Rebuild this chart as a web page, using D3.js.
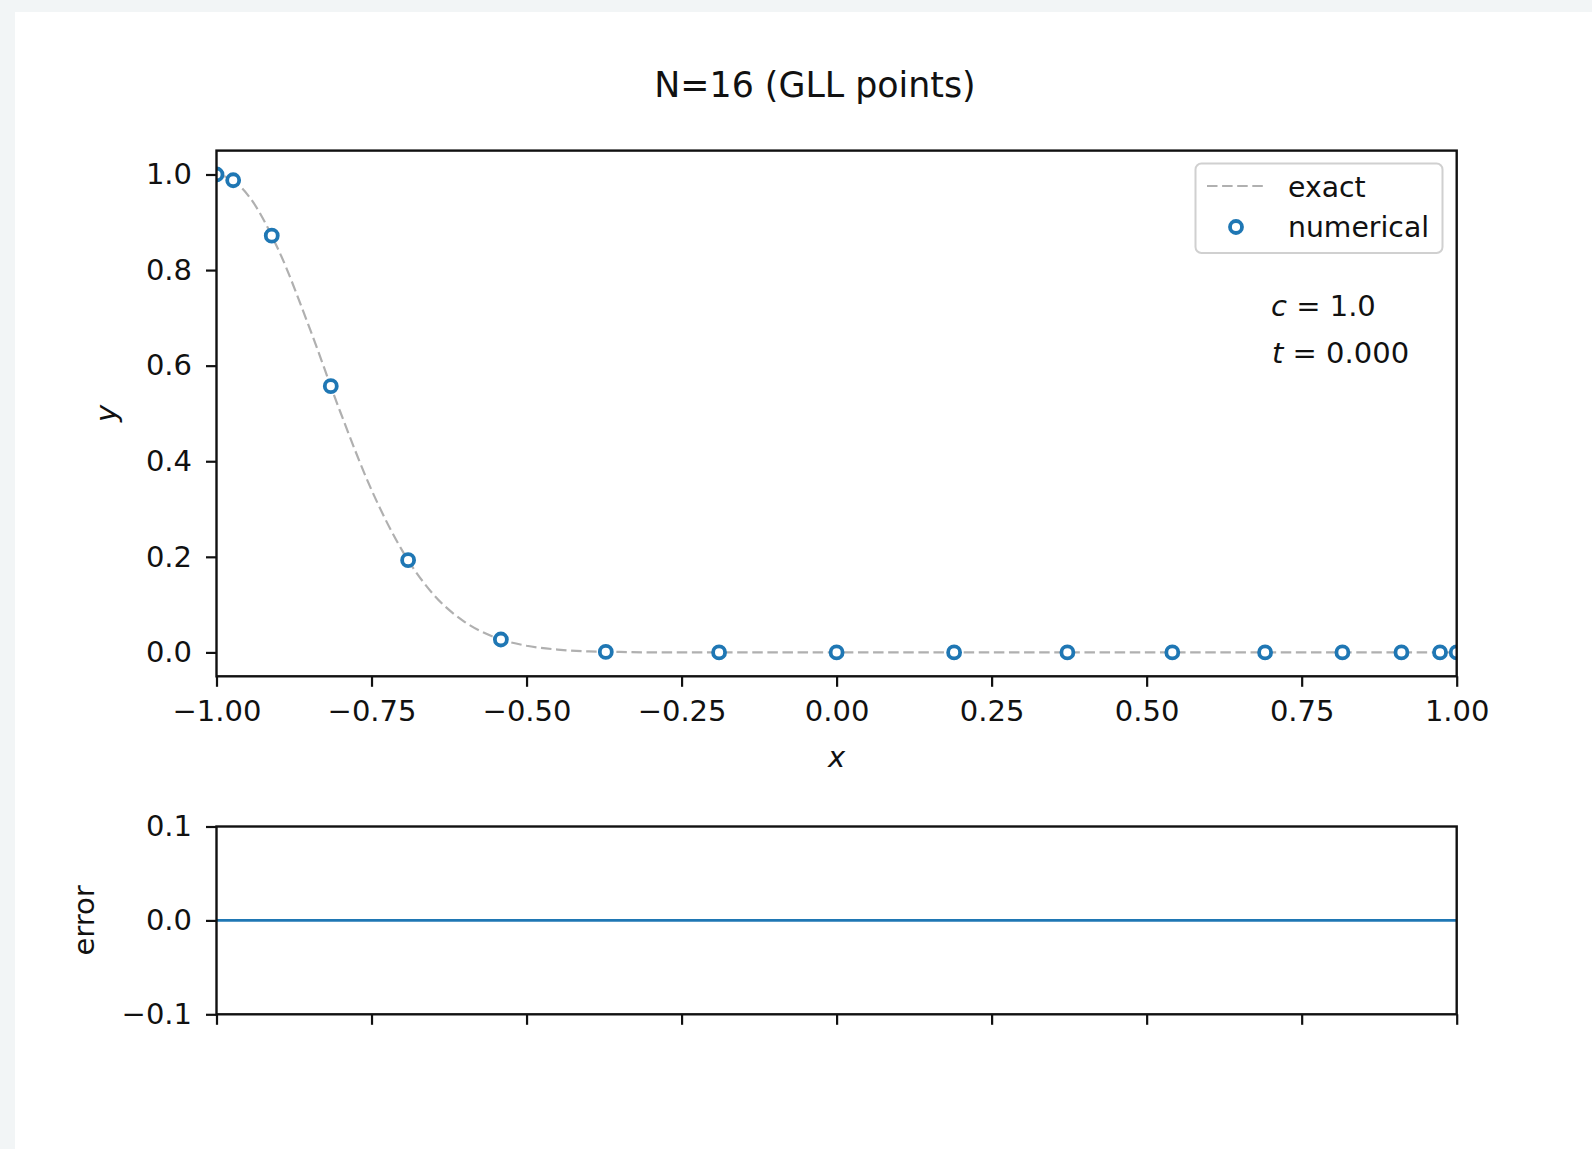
<!DOCTYPE html>
<html>
<head>
<meta charset="utf-8">
<script src="https://cdn.jsdelivr.net/npm/d3@7"></script>
<style>
  html, body { margin: 0; padding: 0; background: #f2f5f6; }
  svg { display: block; }
  text { font-family: "DejaVu Sans", sans-serif; fill: #111; }
</style>
</head>
<body>
<svg id="chart" width="1592" height="1149"></svg>
<script>
// Gauss-Lobatto-Legendre nodes (N = 16) and the numerical solution at those nodes
const gllX = [-1.0000, -0.9731, -0.9109, -0.8157, -0.6910, -0.5414, -0.3722, -0.1895, 0.0000,
              0.1895, 0.3722, 0.5414, 0.6910, 0.8157, 0.9109, 0.9731, 1.0000];
const numericalY = [1.000, 0.988, 0.872, 0.557, 0.193, 0.027, 0.001, 0.000, 0.000,
                    0.000, 0.000, 0.000, 0.000, 0.000, 0.000, 0.000, 0.000];
// pointwise error (numerical - exact) at the nodes
const errorY = [0, 0, 0, 0, 0, 0, 0, 0, 0, 0, 0, 0, 0, 0, 0, 0, 0];

// exact solution sampled along x
const exactX = [-1.00, -0.975, -0.95, -0.90, -0.85, -0.80, -0.75, -0.70, -0.65, -0.60, -0.55,
                -0.50, -0.45, -0.40, -0.35, -0.30, -0.20, 0.00, 0.50, 1.00];
const exactY = [1.000, 0.989, 0.958, 0.842, 0.679, 0.502, 0.340, 0.212, 0.121, 0.064, 0.031,
                0.014, 0.006, 0.002, 0.001, 0.000, 0.000, 0.000, 0.000, 0.000];

// tick values
const xTicks = [-1.00, -0.75, -0.50, -0.25, 0.00, 0.25, 0.50, 0.75, 1.00];
const yTicks = [0.0, 0.2, 0.4, 0.6, 0.8, 1.0];
const errTicks = [-0.1, 0.0, 0.1];

const titleText = "N=16 (GLL points)";
const cValue = "1.0";
const tValue = "0.000";

const BLUE = "#1f77b4";
const FS = 29;

const svg = d3.select("#chart");

// white figure panel
svg.append("rect").attr("x", 15).attr("y", 12).attr("width", 1592 - 15).attr("height", 1149 - 12)
  .attr("fill", "#ffffff");

const L = 216.5, R = 1456.7;
const main = { top: 150.6, bottom: 676.3 };
const err = { top: 826.5, bottom: 1014.3 };

const x = d3.scaleLinear().domain([-1, 1]).range([L, R]);
const y = d3.scaleLinear().domain([-0.05, 1.05]).range([main.bottom, main.top]);
const ye = d3.scaleLinear().domain([-0.1, 0.1]).range([err.bottom, err.top]);

const defs = svg.append("defs");
defs.append("clipPath").attr("id", "clipMain").append("rect")
  .attr("x", L).attr("y", main.top).attr("width", R - L).attr("height", main.bottom - main.top);
defs.append("clipPath").attr("id", "clipErr").append("rect")
  .attr("x", L).attr("y", err.top).attr("width", R - L).attr("height", err.bottom - err.top);

// title
svg.append("text").attr("x", 815).attr("y", 97).attr("text-anchor", "middle")
  .style("font-size", "34.8px").text(titleText);

function styleAxis(g) {
  g.select(".domain").remove();
  g.selectAll(".tick line").attr("stroke", "#111").attr("stroke-width", 2.2);
  g.selectAll(".tick text").style("font-size", FS + "px").style("font-family", "DejaVu Sans, sans-serif")
    .attr("fill", "#111");
}

// ---- main panel ----
const gMain = svg.append("g");
gMain.append("g").attr("transform", `translate(0,${main.bottom})`)
  .call(d3.axisBottom(x).tickValues(xTicks).tickFormat(d3.format(".2f")).tickSize(10.5).tickPadding(13.7))
  .call(styleAxis);
gMain.append("g").attr("transform", `translate(${L},0)`)
  .call(d3.axisLeft(y).tickValues(yTicks).tickFormat(d3.format(".1f")).tickSize(10.5).tickPadding(14))
  .call(styleAxis);

const plot = gMain.append("g").attr("clip-path", "url(#clipMain)");
const exactLine = d3.line().x((d, i) => x(exactX[i])).y(d => y(d)).curve(d3.curveMonotoneX);
plot.append("path").datum(exactY).attr("d", exactLine)
  .attr("fill", "none").attr("stroke", "#b0b0b0").attr("stroke-width", 2.2)
  .attr("stroke-dasharray", "10.5,4.6");
plot.selectAll("circle.num").data(numericalY).join("circle").attr("class", "num")
  .attr("cx", (d, i) => x(gllX[i])).attr("cy", d => y(d)).attr("r", 6.0)
  .attr("fill", "#ffffff").attr("stroke", BLUE).attr("stroke-width", 3.8);

gMain.append("rect").attr("x", L).attr("y", main.top).attr("width", R - L).attr("height", main.bottom - main.top)
  .attr("fill", "none").attr("stroke", "#111").attr("stroke-width", 2.4);

// axis labels
svg.append("text").attr("x", x(0)).attr("y", 767).attr("text-anchor", "middle")
  .style("font-size", FS + "px").style("font-style", "italic").text("x");
svg.append("text").attr("transform", `translate(116,${(main.top + main.bottom) / 2}) rotate(-90)`)
  .attr("text-anchor", "middle").style("font-size", FS + "px").style("font-style", "italic").text("y");

// legend
const lg = svg.append("g");
lg.append("rect").attr("x", 1195.5).attr("y", 163.5).attr("width", 247).attr("height", 89.5)
  .attr("rx", 6).attr("fill", "#ffffff").attr("fill-opacity", 0.8)
  .attr("stroke", "#d0d0d0").attr("stroke-width", 2);
lg.append("line").attr("x1", 1207).attr("x2", 1265).attr("y1", 186).attr("y2", 186)
  .attr("stroke", "#b0b0b0").attr("stroke-width", 2.2).attr("stroke-dasharray", "10.5,4.6");
lg.append("circle").attr("cx", 1236).attr("cy", 227).attr("r", 6.0)
  .attr("fill", "#ffffff").attr("stroke", BLUE).attr("stroke-width", 3.8);
lg.append("text").attr("x", 1288).attr("y", 197).style("font-size", "28.3px").text("exact");
lg.append("text").attr("x", 1288).attr("y", 237).style("font-size", "28.3px").text("numerical");

// parameter annotation
const ann1 = svg.append("text").attr("x", 1271).attr("y", 316).style("font-size", FS + "px");
ann1.append("tspan").style("font-style", "italic").text("c");
ann1.append("tspan").text(" = " + cValue);
const ann2 = svg.append("text").attr("x", 1272).attr("y", 363).style("font-size", FS + "px");
ann2.append("tspan").style("font-style", "italic").text("t");
ann2.append("tspan").text(" = " + tValue);

// ---- error panel ----
const gErr = svg.append("g");
gErr.append("g").attr("transform", `translate(0,${err.bottom})`)
  .call(d3.axisBottom(x).tickValues(xTicks).tickFormat("").tickSize(10.5))
  .call(styleAxis);
gErr.append("g").attr("transform", `translate(${L},0)`)
  .call(d3.axisLeft(ye).tickValues(errTicks).tickFormat(d3.format(".1f")).tickSize(10.5).tickPadding(14))
  .call(styleAxis);

const errPlot = gErr.append("g").attr("clip-path", "url(#clipErr)");
const errLine = d3.line().x((d, i) => x(gllX[i])).y(d => ye(d));
errPlot.append("path").datum(errorY).attr("d", errLine)
  .attr("fill", "none").attr("stroke", BLUE).attr("stroke-width", 2.6);

gErr.append("rect").attr("x", L).attr("y", err.top).attr("width", R - L).attr("height", err.bottom - err.top)
  .attr("fill", "none").attr("stroke", "#111").attr("stroke-width", 2.4);

svg.append("text").attr("transform", `translate(94,${(err.top + err.bottom) / 2}) rotate(-90)`)
  .attr("text-anchor", "middle").style("font-size", FS + "px").text("error");
</script>
</body>
</html>
